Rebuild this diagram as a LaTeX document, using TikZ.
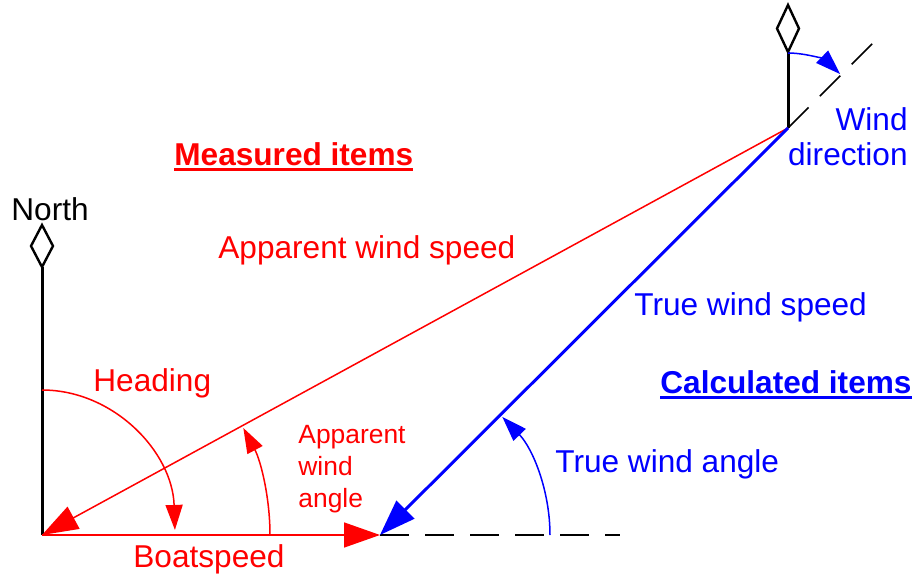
\documentclass[tikz,border=0pt]{standalone}
\usepackage{fontspec}
\setmainfont{Liberation Sans}
\usetikzlibrary{arrows.meta}
\newcommand{\thickul}[1]{\vtop{\hbox{#1}\kern1.4pt\hrule height 1.4pt}}
\tikzset{
 bigtip/.style={-{Triangle[length=18pt,width=12.5pt]}},
 arctip/.style={-{Triangle[length=12.5pt,width=8.5pt]}},
 lbl/.style={inner sep=0pt,font=\fontsize{15.8}{19}\selectfont},
 smalllbl/.style={inner sep=0pt,font=\fontsize{13.2}{16}\selectfont},
 vane/.style={line width=1.5pt,black},
 longdash/.style={dash pattern=on 14.5pt off 8pt,line width=0.75pt}
}
\begin{document}
\begin{tikzpicture}[x=0.5pt,y=0.5pt]
 \useasboundingbox (0,0) rectangle (917,575);
 \coordinate (O) at (42,40);
 \coordinate (B) at (380,40);
 \coordinate (E) at (620,40);
 \coordinate (T) at (788,447);
 \coordinate (N) at (42,308);
 \coordinate (Tn) at (788,523);
 \coordinate (F) at (875,534);

 \draw [vane](O) -- (N);
 \draw [line width=1.2pt](N) -- ++(11,21) -- ++(-11,21) -- ++(-11,-21) -- cycle;
 \draw [vane](T) -- (Tn);
 \draw [line width=1.2pt](Tn) -- ++(11,23.5) -- ++(-11,23.5) -- ++(-11,-23.5) -- cycle;
 \draw [longdash](B) -- (E);
 \draw [longdash](T) -- (F);

 \draw [red,line width=0.75pt,bigtip](O) -- (B);
 \draw [red,line width=0.75pt,bigtip](T) -- (O);
 \draw [blue,line width=1.5pt,bigtip](T) -- (B);

 \draw [red,line width=0.75pt,arctip](O) ++(0,145) arc[start angle=90,end angle=2,x radius=133,y radius=145];
 \draw [red,line width=0.75pt,arctip](O) ++(228,0) arc[start angle=0,end angle=28,radius=228];
 \draw [blue,line width=0.75pt,arctip](B) ++(170,0) arc[start angle=0,end angle=44,radius=170];
 \draw [blue,line width=0.75pt,arctip](T) ++(0,75) arc[start angle=90,end angle=46,radius=75];

 \node [lbl,anchor=base west](north) at (11,355) {North};
 \node [lbl,red,anchor=base west](measured) at (174,410) {\thickul{\bfseries Measured items}};
 \node [lbl,red,anchor=base west](aws) at (218,317) {Apparent wind speed};
 \node [lbl,red,anchor=base west](heading) at (93,184) {Heading};
 \node [lbl,red,anchor=base west](boatspeed) at (133,8) {Boatspeed};
 \node [smalllbl,red,anchor=base west](awa1) at (298,132) {Apparent};
 \node [smalllbl,red,anchor=base west](awa2) at (298,100) {wind};
 \node [smalllbl,red,anchor=base west](awa3) at (298,68) {angle};
 \node [lbl,blue,anchor=base west](tws) at (634,260) {True wind speed};
 \node [lbl,blue,anchor=base west](calculated) at (660,182) {\thickul{\bfseries Calculated items}};
 \node [lbl,blue,anchor=base west](twa) at (555,103) {True wind angle};
 \node [lbl,blue,anchor=base east](wind) at (908,445) {Wind};
 \node [lbl,blue,anchor=base east](direction) at (908,410) {direction};
\end{tikzpicture}
\end{document}
